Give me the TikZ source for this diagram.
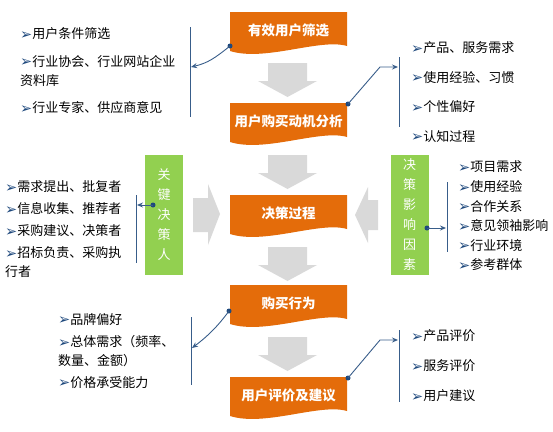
\documentclass[tikz,border=0pt]{standalone}
\usepackage{fontspec}
\newfontfamily\cjk{Noto Sans CJK SC}
\newfontfamily\symfont{DejaVu Sans}
\usetikzlibrary{arrows.meta,calc}
\definecolor{stageorange}{HTML}{E46C0A}
\definecolor{factorgreen}{HTML}{92D050}
\definecolor{flowgray}{HTML}{D9D9D9}
\definecolor{linkblue}{HTML}{385D8A}
\definecolor{markblue}{HTML}{1F497D}
\newcommand{\itemmark}{{\symfont\fontsize{14.5}{14}\selectfont\color{markblue}\raisebox{-0.5pt}{➢}}}
\tikzset{
  stage/.style={text=white,font=\cjk\bfseries\fontsize{13.5}{16}\selectfont,
    minimum width=117pt,minimum height=34pt,inner sep=0pt},
  factor/.style={fill=factorgreen,text=white,font=\cjk\fontsize{13}{20}\selectfont,
    minimum width=38pt,minimum height=120pt,align=center,inner sep=0pt},
  itemlist/.style={anchor=west,align=left,inner sep=0pt,font=\cjk\fontsize{13}{19}\selectfont},
  link/.style={draw=linkblue,line width=0.9pt,-{Stealth[length=6pt,width=5pt]}},
  bar/.style={draw=linkblue,line width=0.9pt},
  dot/.style={fill=markblue,circle,inner sep=0pt,minimum size=5pt}
}

\begin{document}
\begin{tikzpicture}[x=1pt,y=-1pt]
\useasboundingbox (0,0) rectangle (553,431);

% stage boxes with wavy bottom
\foreach \t in {12,103,195,285,377}
  \fill[stageorange] (230,\t) -- (347,\t) -- (347,\t+34)
    .. controls (320,\t+26) and (265,\t+50) .. (230,\t+39) -- cycle;
\node[stage] (b1) at (288.5,30) {有效用户筛选};
\node[stage] (b2) at (288.5,121) {用户购买动机分析};
\node[stage] (b3) at (288.5,213) {决策过程};
\node[stage] (b4) at (288.5,303) {购买行为};
\node[stage] (b5) at (288.5,395) {用户评价及建议};

% gray block arrows
\foreach \y in {63,155,247,337}
  \fill[flowgray] (268,\y) -- (307,\y) -- (307,\y+18) -- (317,\y+18)
    -- (287.5,\y+34) -- (258,\y+18) -- (268,\y+18) -- cycle;
\fill[flowgray] (193,198) -- (208,198) -- (208,184) -- (220,214)
  -- (208,245) -- (208,232) -- (193,232) -- cycle;
\fill[flowgray] (378,200) -- (368,200) -- (368,187) -- (355,215)
  -- (368,243) -- (368,230) -- (378,230) -- cycle;

% key persons and factors
\node[factor] (keyp) at (164,215) {关\\键\\决\\策\\人};
\node[factor] (infl) at (409.5,215) {决\\策\\影\\响\\因\\素};

% lists
\node[itemlist] (tlist) at (20,71) {\itemmark 用户条件筛选\\[8.5pt]
  \itemmark 行业协会、行业网站企业\\
  资料库\\[8.5pt]
  \itemmark 行业专家、供应商意见};
\node[itemlist] (trlist) at (411,92) {\itemmark 产品、服务需求\\[10.5pt]
  \itemmark 使用经验、习惯\\[10.5pt]
  \itemmark 个性偏好\\[10.5pt]
  \itemmark 认知过程};
\node[itemlist] (lmlist) at (5,229.5) {\itemmark 需求提出、批复者\\[3pt]
  \itemmark 信息收集、推荐者\\[3pt]
  \itemmark 采购建议、决策者\\[3pt]
  \itemmark 招标负责、采购执\\
  行者};
\node[itemlist,font=\cjk\fontsize{13}{19.6}\selectfont] (rmlist) at (458,216) {\itemmark 项目需求\\
  \itemmark 使用经验\\
  \itemmark 合作关系\\
  \itemmark 意见领袖影响\\
  \itemmark 行业环境\\
  \itemmark 参考群体};
\node[itemlist] (bllist) at (58,351) {\itemmark 品牌偏好\\[3.5pt]
  \itemmark 总体需求（频率、\\
  数量、金额）\\[2.5pt]
  \itemmark 价格承受能力};
\node[itemlist] (brlist) at (411,366) {\itemmark 产品评价\\[11pt]
  \itemmark 服务评价\\[11pt]
  \itemmark 用户建议};

% brackets
\draw[bar] (190,27) -- (190,117);
\draw[bar] (399,57) -- (399,127);
\draw[bar] (136,195) -- (136,263);
\draw[bar] (447,182) -- (447,252);
\draw[bar] (191,317) -- (191,385);
\draw[bar] (399,330) -- (399,402);
\coordinate (tlbar) at (191,67);
\coordinate (trbar) at (398,67);
\coordinate (lmbar) at (137,205);
\coordinate (rmbar) at (446,228);
\coordinate (blbar) at (192,348);
\coordinate (brbar) at (398,340);

% dots and links
\node[dot] (d1) at (230,46) {};
\node[dot] (d2) at (348,104) {};
\node[dot] (d3) at (153,205) {};
\node[dot] (d4) at (427,228) {};
\node[dot] (d5) at (229,311) {};
\node[dot] (d6) at (348,378) {};
\draw[link] (d1.center) .. controls (215,58) and (208,63) .. (tlbar);
\draw[link] (d2.center) -- (380,67) -- (trbar);
\draw[link] (d3.center) -- (lmbar);
\draw[link] (d4.center) -- (rmbar);
\draw[link] (d5.center) .. controls (218,326) and (208,336) .. (blbar);
\draw[link] (d6.center) -- (380,340) -- (brbar);
\end{tikzpicture}
\end{document}
